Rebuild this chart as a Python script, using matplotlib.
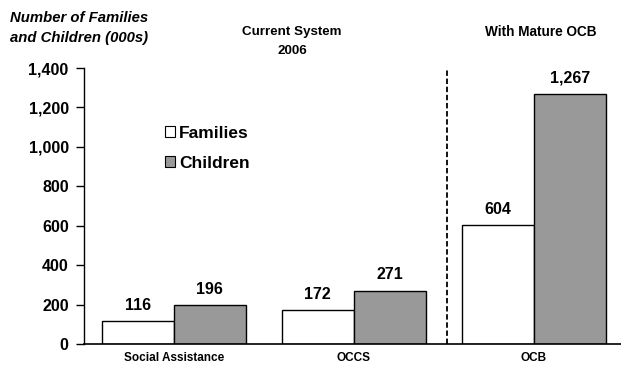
import matplotlib
matplotlib.use("Agg")
import matplotlib.pyplot as plt
from matplotlib import font_manager
from matplotlib.patches import Patch

categories = ["Social Assistance", "OCCS", "OCB"]
families = [116, 172, 604]
children = [196, 271, 1267]
yticks = [0, 200, 400, 600, 800, 1000, 1200, 1400]

avail = {f.name for f in font_manager.fontManager.ttflist}
family = "Liberation Sans Narrow" if "Liberation Sans Narrow" in avail else "Liberation Sans"
plt.rcParams["font.family"] = [family, "DejaVu Sans"]
plt.rcParams["font.weight"] = "bold"

W, H = 621, 366
fig = plt.figure(figsize=(W / 100, H / 100), dpi=100)
left, bottom, top = 84, 344, 68
right = 621
ax = fig.add_axes([left / W, (H - bottom) / H, (right - left) / W, (bottom - top) / H])

x = list(range(len(categories)))
bw = 0.4
fam_x = [i - bw / 2 for i in x]
chi_x = [i + bw / 2 for i in x]
ax.bar(fam_x, families, width=bw, color="white", edgecolor="black", linewidth=1.0, zorder=2)
ax.bar(chi_x, children, width=bw, color="#999999", edgecolor="black", linewidth=1.0, zorder=2)

for xi, v in zip(fam_x, families):
    ax.text(xi, v + 42, f"{v:,}", ha="center", va="bottom", fontsize=11.5, fontweight="bold")
for xi, v in zip(chi_x, children):
    ax.text(xi, v + 42, f"{v:,}", ha="center", va="bottom", fontsize=11.5, fontweight="bold")

ax.set_xlim(-0.5, 2.485)
ax.set_ylim(0, 1400)
ax.set_yticks(yticks)
ax.set_yticklabels([f"{t:,}" for t in yticks], fontsize=11.5, fontweight="bold")
ax.set_xticks(x)
ax.set_xticklabels(categories, fontsize=8.5, fontweight="bold")
ax.tick_params(axis="x", length=0, pad=6)
ax.tick_params(axis="y", direction="out", length=6, width=1, pad=5)
ax.spines["top"].set_visible(False)
ax.spines["right"].set_visible(False)
ax.spines["left"].set_linewidth(1)
ax.spines["bottom"].set_linewidth(1.2)

ax.axvline(1.52, ymin=0, ymax=1, color="black", linestyle=(0, (3, 1.5)), linewidth=1.3)

handles = [Patch(facecolor="white", edgecolor="black", linewidth=0.8, label="Families"),
           Patch(facecolor="#999999", edgecolor="black", linewidth=0.8, label="Children")]
ax.legend(handles=handles, loc="upper left", bbox_to_anchor=(0.137, 0.815), frameon=False,
          prop={"size": 12.5, "weight": "bold"}, handlelength=0.6, handleheight=0.6,
          handletextpad=0.25, labelspacing=0.85, borderaxespad=0)

fig.text(10 / W, 1 - 18 / H, "Number of Families", fontsize=10.7, fontstyle="italic",
         fontweight="bold", ha="left", va="center")
fig.text(10 / W, 1 - 38 / H, "and Children (000s)", fontsize=10.7, fontstyle="italic",
         fontweight="bold", ha="left", va="center")
fig.text(292 / W, 1 - 32 / H, "Current System", fontsize=9.6, fontweight="bold", ha="center", va="center")
fig.text(292 / W, 1 - 51 / H, "2006", fontsize=9.6, fontweight="bold", ha="center", va="center")
fig.text(541 / W, 1 - 32 / H, "With Mature OCB", fontsize=9.8, fontweight="bold", ha="center", va="center")

fig.savefig("out.png", dpi=100)
